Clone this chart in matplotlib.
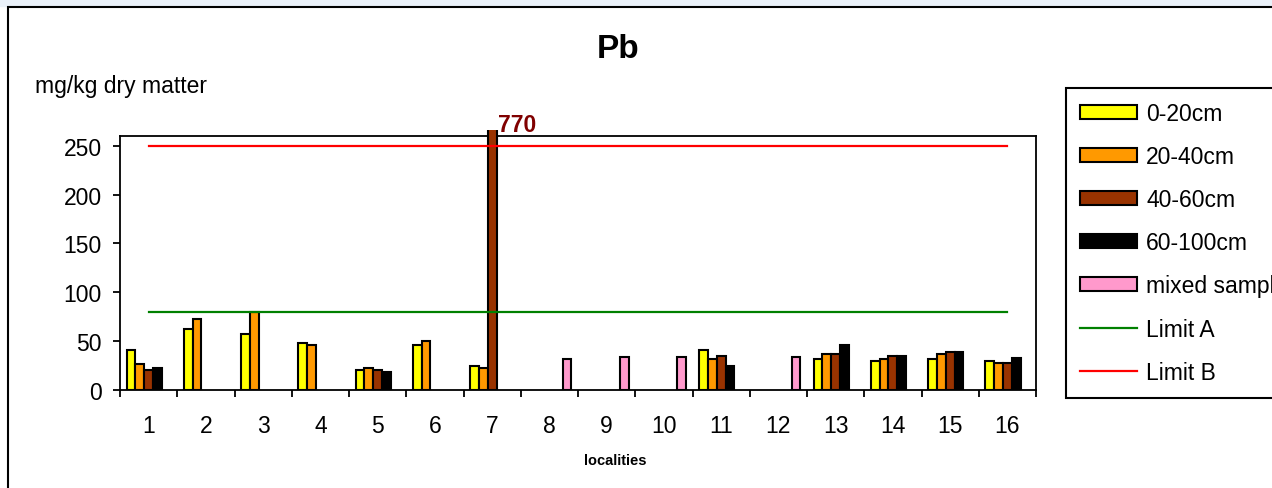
import numpy as np
import matplotlib
matplotlib.use("Agg")
import matplotlib.pyplot as plt
from matplotlib.patches import Rectangle
from matplotlib.transforms import Bbox, TransformedBbox, blended_transform_factory

# chart data
localities = [str(i) for i in range(1, 17)]
depth_0_20 = [41, 62, 57.5, 48, 20.5, 46, 25, np.nan, np.nan, np.nan, 41, np.nan, 32, 29.5, 31.5, 29.5]
depth_20_40 = [27, 73, 80, 46, 23, 50, 22.5, np.nan, np.nan, np.nan, 31.5, np.nan, 37, 32, 37, 27.5]
depth_40_60 = [20.5, np.nan, np.nan, np.nan, 20.5, np.nan, 770, np.nan, np.nan, np.nan, 34.5, np.nan, 37, 34.5, 39, 27.5]
depth_60_100 = [23, np.nan, np.nan, np.nan, 18.5, np.nan, np.nan, np.nan, np.nan, np.nan, 25, np.nan, 46.5, 34.5, 39, 32.5]
mixed_sample = [np.nan, np.nan, np.nan, np.nan, np.nan, np.nan, np.nan, 32, 34, 34, np.nan, 34, np.nan, np.nan, np.nan, np.nan]
limit_a = 80
limit_b = 250

series_labels = ["0-20cm", "20-40cm", "40-60cm", "60-100cm", "mixed sample"]
series_values = [depth_0_20, depth_20_40, depth_40_60, depth_60_100, mixed_sample]
series_colors = ["#FFFF00", "#FF9900", "#993300", "#000000", "#FF99CC"]

plt.rcParams['font.family'] = ['Liberation Sans', 'DejaVu Sans']
fs = 16.5   # common font size

fig = plt.figure(figsize=(12.72, 4.89), dpi=100)
W, H = 1272, 489
ax = fig.add_axes([120 / W, 1 - 391 / H, (1036 - 120) / W, (391 - 137) / H])

x = np.arange(1, len(localities) + 1)
w = 1 / 6.5   # excel style gap width 150%

handles = []
for i, (vals, col, lab) in enumerate(zip(series_values, series_colors, series_labels)):
    bars = ax.bar(x + (i - 2) * w, vals, w, color=col, edgecolor="black", linewidth=1.5, label=lab, zorder=3)
    handles.append(bars)

# the 770 bar pokes slightly above the plot area
tall = handles[2][6]
tall.set_clip_box(TransformedBbox(Bbox([[0, 0], [1, 1.025]]), ax.transAxes))
trans = blended_transform_factory(ax.transData, ax.transAxes)
ax.text(7 + w / 2 + 0.02, 1.0, "770", transform=trans, color="#800000", fontsize=fs, fontweight="bold",
        ha="left", va="bottom")

# limit lines from first to last locality
la, = ax.plot([x[0], x[-1]], [limit_a, limit_a], color="#008000", lw=1.6, zorder=4, label="Limit A")
lb, = ax.plot([x[0], x[-1]], [limit_b, limit_b], color="#FF0000", lw=1.6, zorder=4, label="Limit B")

ax.set_xlim(0.5, 16.5)
ax.set_ylim(0, 260)
ax.set_yticks([0, 50, 100, 150, 200, 250])
ax.set_xticks(np.arange(0.5, 17, 1))
ax.set_xticklabels([])
ax.set_xticks(x, minor=True)
ax.set_xticklabels(localities, minor=True)
ax.tick_params(axis="x", which="major", length=5, width=1.3, direction="out")
ax.tick_params(axis="x", which="minor", length=0, pad=17, labelsize=fs)
ax.tick_params(axis="y", length=5, width=1.3, direction="out", pad=8, labelsize=fs)
for s in ax.spines.values():
    s.set_linewidth(1.3)

# axis texts placed like in the original chart
fig.text(615 / W, 1 - 461 / H, "localities", fontsize=10.5, fontweight="bold", ha="center", va="center")
fig.text(35 / W, 1 - 86 / H, "mg/kg dry matter", fontsize=fs, ha="left", va="center")
fig.text(618 / W, 1 - 50 / H, "Pb", fontsize=24, fontweight="bold", ha="center", va="center")

leg = fig.legend(handles + [la, lb], series_labels + ["Limit A", "Limit B"], loc="upper left",
                 bbox_to_anchor=(1066 / W, 1 - 89 / H), borderaxespad=0, fontsize=fs,
                 frameon=True, fancybox=False, framealpha=1, edgecolor="black",
                 handlelength=2.5, handleheight=0.55, handletextpad=0.4, labelspacing=0.88,
                 borderpad=0.6)
leg.get_frame().set_linewidth(1.5)
for p in leg.get_patches():
    p.set_linewidth(1.5)

# outer chart frame and light strip on top
fig.patches.append(Rectangle((0, 1 - 7 / H), 1, 7 / H, transform=fig.transFigure, color="#EAF1F9", zorder=0))
fig.patches.append(Rectangle((8 / W, -0.1), 1.2, 1.1 - 8 / H, transform=fig.transFigure, fill=False,
                             edgecolor="black", lw=1.5, zorder=1))

fig.savefig("out.png", dpi=100)
